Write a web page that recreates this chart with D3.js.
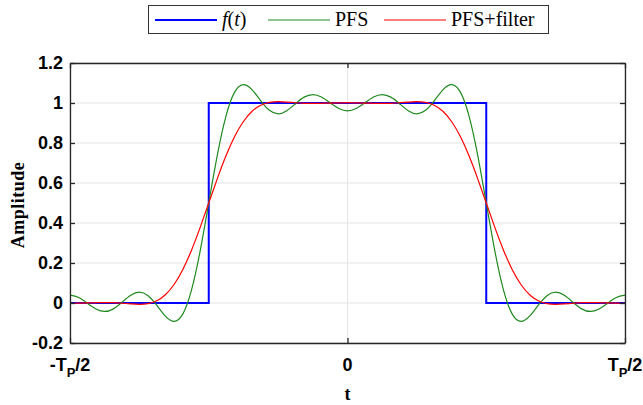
<!DOCTYPE html>
<html>
<head>
<meta charset="utf-8">
<script src="https://cdn.jsdelivr.net/npm/d3@7"></script>
<style>
  html, body { margin: 0; padding: 0; background: #fff; }
  svg { display: block; }
</style>
</head>
<body>
<svg id="chart" width="643" height="405"></svg>
<script>
// ---- data (t in units of the period T_P) ----
const tSamples = [
  -0.5, -0.484375, -0.46875, -0.453125, -0.4375, -0.421875, -0.40625, -0.390625,
  -0.375, -0.359375, -0.34375, -0.328125, -0.3125, -0.296875, -0.28125, -0.265625,
  -0.25, -0.234375, -0.21875, -0.203125, -0.1875, -0.171875, -0.15625, -0.140625,
  -0.125, -0.109375, -0.09375, -0.078125, -0.0625, -0.046875, -0.03125, -0.015625,
  0,
  0.015625, 0.03125, 0.046875, 0.0625, 0.078125, 0.09375, 0.109375, 0.125,
  0.140625, 0.15625, 0.171875, 0.1875, 0.203125, 0.21875, 0.234375, 0.25,
  0.265625, 0.28125, 0.296875, 0.3125, 0.328125, 0.34375, 0.359375, 0.375,
  0.390625, 0.40625, 0.421875, 0.4375, 0.453125, 0.46875, 0.484375, 0.5
];
const pfsValues = [
  0.0392, 0.0275, -0.0009, -0.0299, -0.0423, -0.0293, 0.0036, 0.0386,
  0.0541, 0.0365, -0.0110, -0.0657, -0.0921, -0.0558, 0.0628, 0.2583,
  0.5, 0.7417, 0.9372, 1.0558, 1.0921, 1.0657, 1.0110, 0.9635,
  0.9459, 0.9614, 0.9964, 1.0293, 1.0423, 1.0299, 1.0009, 0.9725,
  0.9608,
  0.9725, 1.0009, 1.0299, 1.0423, 1.0293, 0.9964, 0.9614, 0.9459,
  0.9635, 1.0110, 1.0657, 1.0921, 1.0558, 0.9372, 0.7417, 0.5,
  0.2583, 0.0628, -0.0558, -0.0921, -0.0657, -0.0110, 0.0365, 0.0541,
  0.0386, 0.0036, -0.0293, -0.0423, -0.0299, -0.0009, 0.0275, 0.0392
];
const filteredValues = [
  -0.0015, -0.0010, 0.0002, 0.0016, 0.0022, 0.0014, -0.0012, -0.0046,
  -0.0065, -0.0030, 0.0111, 0.0414, 0.0925, 0.1667, 0.2629, 0.3767,
  0.5, 0.6233, 0.7371, 0.8333, 0.9075, 0.9586, 0.9889, 1.0030,
  1.0065, 1.0046, 1.0012, 0.9986, 0.9978, 0.9984, 0.9998, 1.0010,
  1.0015,
  1.0010, 0.9998, 0.9984, 0.9978, 0.9986, 1.0012, 1.0046, 1.0065,
  1.0030, 0.9889, 0.9586, 0.9075, 0.8333, 0.7371, 0.6233, 0.5,
  0.3767, 0.2629, 0.1667, 0.0925, 0.0414, 0.0111, -0.0030, -0.0065,
  -0.0046, -0.0012, 0.0014, 0.0022, 0.0016, 0.0002, -0.0010, -0.0015
];
// rectangular pulse f(t)
const pulseT = [-0.5, -0.25, -0.25, 0.25, 0.25, 0.5];
const pulseV = [0, 0, 1, 1, 0, 0];

const yTickValues = [-0.2, 0, 0.2, 0.4, 0.6, 0.8, 1, 1.2];
const yTickLabels = ["-0.2", "0", "0.2", "0.4", "0.6", "0.8", "1", "1.2"];
const xTickValues = [-0.5, 0, 0.5];
const xTickLabels = ["-T_P/2", "0", "T_P/2"];

const seriesNames = ["f(t)", "PFS", "PFS+filter"];
const seriesColors = ["#0000ff", "#1f8a1f", "#ff0000"];

// ---- layout ----
const svg = d3.select("#chart");
const L = 70, R = 625, T = 63, B = 343;
const x = d3.scaleLinear().domain([-0.5, 0.5]).range([L, R]);
const y = d3.scaleLinear().domain([-0.2, 1.2]).range([B, T]);
const axisColor = "#262626";
const tickFont = "'Liberation Sans', Arial, Helvetica, sans-serif";
const serif = "'Liberation Serif', 'Times New Roman', serif";

// grid
const grid = svg.append("g");
grid.selectAll("line.gy").data(yTickValues).join("line")
  .attr("x1", L).attr("x2", R)
  .attr("y1", d => y(d)).attr("y2", d => y(d))
  .attr("stroke", "#e3e3e3").attr("stroke-width", 1);
grid.selectAll("line.gx").data(xTickValues).join("line")
  .attr("y1", T).attr("y2", B)
  .attr("x1", d => x(d)).attr("x2", d => x(d))
  .attr("stroke", "#e3e3e3").attr("stroke-width", 1);

// clip
svg.append("clipPath").attr("id", "clip").append("rect")
  .attr("x", L).attr("y", T).attr("width", R - L).attr("height", B - T);

const plot = svg.append("g").attr("clip-path", "url(#clip)");
const lineGen = d3.line().x(d => x(d[0])).y(d => y(d[1]));

plot.append("path")
  .datum(pulseT.map((t, i) => [t, pulseV[i]]))
  .attr("d", lineGen.curve(d3.curveLinear))
  .attr("fill", "none").attr("stroke", seriesColors[0]).attr("stroke-width", 2);

const smooth = d3.line().x(d => x(d[0])).y(d => y(d[1])).curve(d3.curveNatural);
plot.append("path")
  .datum(tSamples.map((t, i) => [t, pfsValues[i]]))
  .attr("d", smooth)
  .attr("fill", "none").attr("stroke", seriesColors[1]).attr("stroke-width", 1.2);
plot.append("path")
  .datum(tSamples.map((t, i) => [t, filteredValues[i]]))
  .attr("d", smooth)
  .attr("fill", "none").attr("stroke", seriesColors[2]).attr("stroke-width", 1.2);

// axes
function styleAxis(g) {
  g.select(".domain").attr("stroke", axisColor).attr("stroke-width", 1.3);
  g.selectAll(".tick line").attr("stroke", axisColor).attr("stroke-width", 1.3);
}
const yAxis = svg.append("g").attr("transform", `translate(${L},0)`)
  .call(d3.axisLeft(y).tickValues(yTickValues)
    .tickFormat((d, i) => yTickLabels[i]).tickSize(-5).tickSizeOuter(0).tickPadding(7));
styleAxis(yAxis);
yAxis.selectAll("text").attr("font-family", tickFont).attr("font-weight", "bold")
  .attr("font-size", 18).attr("fill", "#000");

const yAxisR = svg.append("g").attr("transform", `translate(${R},0)`)
  .call(d3.axisRight(y).tickValues(yTickValues).tickFormat("").tickSize(-5).tickSizeOuter(0));
styleAxis(yAxisR);

const xAxis = svg.append("g").attr("transform", `translate(0,${B})`)
  .call(d3.axisBottom(x).tickValues(xTickValues).tickFormat("").tickSize(-5).tickSizeOuter(0));
styleAxis(xAxis);
const xAxisT = svg.append("g").attr("transform", `translate(0,${T})`)
  .call(d3.axisTop(x).tickValues(xTickValues).tickFormat("").tickSize(-5).tickSizeOuter(0));
styleAxis(xAxisT);

// x tick labels with subscript
const xl = svg.append("g");
xTickValues.forEach((v, i) => {
  const txt = xl.append("text")
    .attr("x", x(v)).attr("y", B + 28)
    .attr("text-anchor", "middle")
    .attr("font-family", tickFont).attr("font-weight", "bold")
    .attr("font-size", 18).attr("fill", "#000");
  const lab = xTickLabels[i];
  const m = lab.match(/^(.*)_(.)(.*)$/);
  if (m) {
    txt.append("tspan").text(m[1]);
    txt.append("tspan").attr("font-size", 13).attr("dy", 6).text(m[2]);
    txt.append("tspan").attr("dy", -6).text(m[3]);
  } else {
    txt.text(lab);
  }
});

// axis titles
svg.append("text")
  .attr("transform", `translate(24,${(T + B) / 2 + 2}) rotate(-90)`)
  .attr("text-anchor", "middle")
  .attr("font-family", serif).attr("font-weight", "bold")
  .attr("font-size", 18).attr("letter-spacing", 0.5)
  .text("Amplitude");
svg.append("text")
  .attr("x", x(0)).attr("y", 400)
  .attr("text-anchor", "middle")
  .attr("font-family", serif).attr("font-weight", "bold")
  .attr("font-size", 18)
  .text("t");

// legend
const lg = svg.append("g");
lg.append("rect").attr("x", 148.5).attr("y", 5.5).attr("width", 400).attr("height", 28)
  .attr("fill", "#fff").attr("stroke", "#333").attr("stroke-width", 1);
const legX = [155, 268, 384];
seriesNames.forEach((name, i) => {
  lg.append("line")
    .attr("x1", legX[i]).attr("x2", legX[i] + 62)
    .attr("y1", 20).attr("y2", 20)
    .attr("stroke", seriesColors[i]).attr("stroke-width", i === 0 ? 2 : 1.2);
  const t = lg.append("text")
    .attr("x", legX[i] + 67).attr("y", 26)
    .attr("font-family", serif).attr("font-size", 20).attr("fill", "#000");
  if (name === "f(t)") {
    t.append("tspan").attr("font-style", "italic").text("f");
    t.append("tspan").text("(");
    t.append("tspan").attr("font-style", "italic").text("t");
    t.append("tspan").text(")");
  } else {
    t.text(name);
  }
});
</script>
</body>
</html>
